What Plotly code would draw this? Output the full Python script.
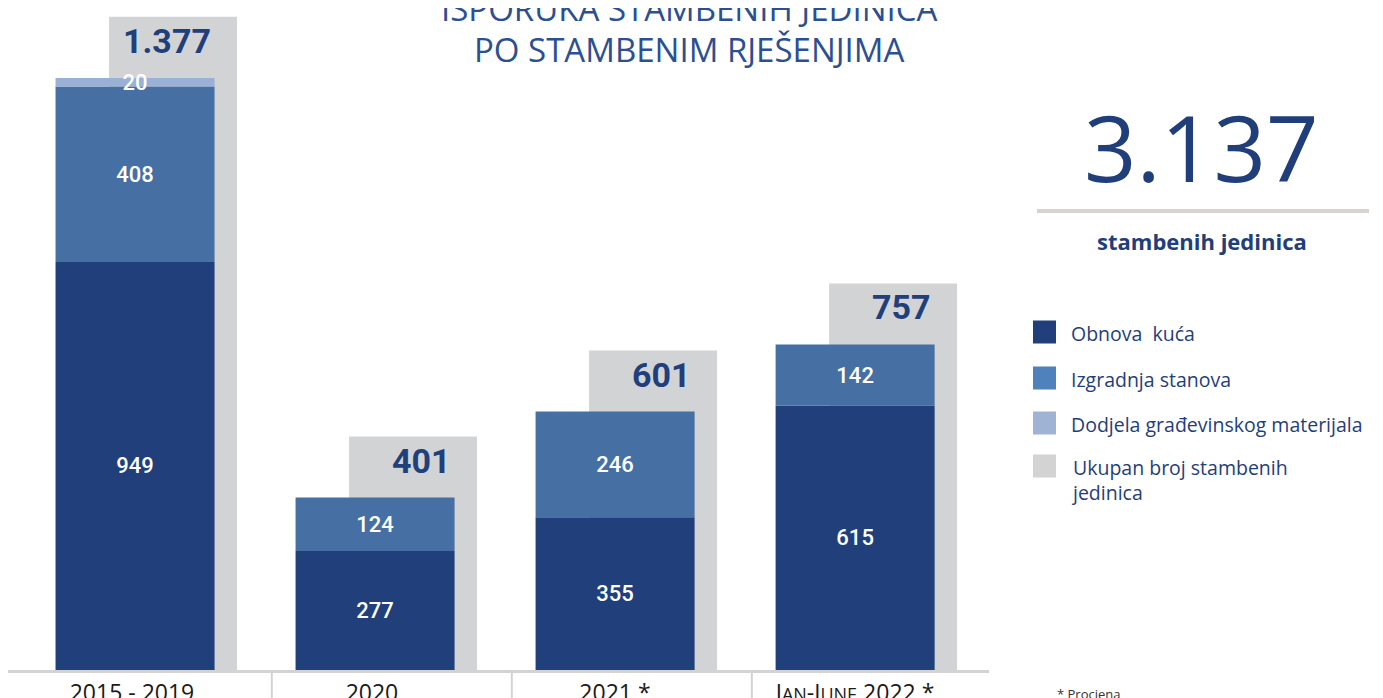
import plotly.graph_objects as go

# ---- data ----
categories = ["2015 - 2019.", "2020.", "2021.*", "JAN-JUNE 2022.*"]
tick_labels = [
    "2015 - 2019.",
    "2020.",
    "2021.*",
    "J<span style='font-size:18px'>AN</span>-J<span style='font-size:18px'>UNE</span> 2022.*",
]
obnova_kuca = [949, 277, 355, 615]
izgradnja_stanova = [408, 124, 246, 142]
dodjela_materijala = [20, 0, 0, 0]
ukupno = [1377, 401, 601, 757]
grand_total = 3137

series_names = ["Obnova  kuća", "Izgradnja stanova", "Dodjela građevinskog materijala",
                "Ukupan broj stambenih<br>jedinica"]

# ---- style ----
W, H = 1383, 698
OFS = 8  # page body margin of the browser
C_DARK = "#203F7B"
C_MID = "#4670A3"
C_LIGHT = "#9AB0D4"
C_GRAY = "#D2D3D5"
LEG_COLORS = ["#203F7B", "#4F81BD", "#9FB3D5", "#D3D3D3"]
TXT = "#1F3E7A"
TITLE_C = "#2B4F91"

COL_OFF, COL_W = -0.331, 0.6625
GRAY_OFF, GRAY_W = -0.108, 0.533
HEADROOM = 142  # extra height of the grey total bar above the stack (label room)


def px(x):
    return (x - OFS) / W


def py(y):
    return 1 - (y - OFS) / H


def fmt(v):
    return f"{v:,}".replace(",", ".")


fig = go.Figure()

gray_heights = [t + HEADROOM for t in ukupno]
fig.add_trace(go.Bar(
    x=categories, y=gray_heights, offset=GRAY_OFF, width=GRAY_W,
    marker=dict(color=C_GRAY, line=dict(width=0)), hoverinfo="skip",
    showlegend=False,
))

base = [0] * len(categories)
for vals, col in [(obnova_kuca, C_DARK), (izgradnja_stanova, C_MID), (dodjela_materijala, C_LIGHT)]:
    fig.add_trace(go.Bar(
        x=categories, y=vals, base=list(base), offset=COL_OFF, width=COL_W,
        marker=dict(color=col, line=dict(width=0)),
        text=[str(v) if v > 0 else "" for v in vals],
        textposition="inside", insidetextanchor="middle", textangle=0,
        textfont=dict(family="Roboto", size=22, color="white", weight=500),
        showlegend=False,
    ))
    base = [b + v for b, v in zip(base, vals)]

annotations = []
# totals on grey bars
for i, (t, g) in enumerate(zip(ukupno, gray_heights)):
    annotations.append(dict(
        x=i + COL_OFF + COL_W, y=g, xref="x", yref="y", xanchor="right", yanchor="middle",
        yshift=-24, xshift=-2, showarrow=False, text=f"<b>{fmt(t)}</b>",
        font=dict(family="Roboto", size=34, color=C_DARK),
    ))

# title
annotations.append(dict(x=px(689), y=py(8), xref="paper", yref="paper", showarrow=False,
                        text="ISPORUKA STAMBENIH JEDINICA", xanchor="center", yanchor="middle",
                        font=dict(family="Open Sans", size=33, color=TITLE_C)))
annotations.append(dict(x=px(689), y=py(50), xref="paper", yref="paper", showarrow=False,
                        text="PO STAMBENIM RJEŠENJIMA", xanchor="center", yanchor="middle",
                        font=dict(family="Open Sans", size=33, color=TITLE_C)))

# big grand total
annotations.append(dict(x=px(1201), y=py(146), xref="paper", yref="paper", showarrow=False,
                        text=fmt(grand_total), xanchor="center", yanchor="middle",
                        font=dict(family="Open Sans", size=92, color=TXT)))
annotations.append(dict(x=px(1202), y=py(241), xref="paper", yref="paper", showarrow=False,
                        text="<b>stambenih jedinica</b>", xanchor="center", yanchor="middle",
                        font=dict(family="Open Sans", size=22, color=TXT)))

# footnote
annotations.append(dict(x=px(1055), y=py(694), xref="paper", yref="paper", showarrow=False,
                        text="* Procjena", xanchor="left", yanchor="middle",
                        font=dict(family="Open Sans", size=13, color="#333333")))

shapes = []
# line under big number
shapes.append(dict(type="line", xref="paper", yref="paper", x0=px(1037), x1=px(1369),
                   y0=py(211), y1=py(211), line=dict(color="#D9D2CE", width=4)))

# custom legend
leg_y = [332, 378, 423, 466]
for name, col, yy in zip(series_names, LEG_COLORS, leg_y):
    shapes.append(dict(type="rect", xref="paper", yref="paper",
                       x0=px(1033), x1=px(1056), y0=py(yy - 11.5), y1=py(yy + 11.5),
                       fillcolor=col, line=dict(width=0)))
    annotations.append(dict(x=px(1069), y=py(yy - 14), xref="paper", yref="paper",
                            showarrow=False, text=name, xanchor="left", yanchor="top", align="left",
                            font=dict(family="Open Sans", size=19.5, color=TXT)))

# category dividers below the axis
for k in range(len(categories) - 1):
    shapes.append(dict(type="line", xref="x", yref="paper", x0=k + 0.57, x1=k + 0.57,
                       y0=py(670), y1=py(700), line=dict(color="#D3D3D3", width=2)))

fig.update_layout(
    width=W, height=H,
    margin=dict(l=0, r=0, t=0, b=0),
    barmode="overlay",
    plot_bgcolor="white", paper_bgcolor="white",
    uniformtext=dict(minsize=22, mode="show"),
    annotations=annotations, shapes=shapes,
    showlegend=False,
    xaxis=dict(domain=[px(8), px(989)], range=[-0.529, 3.558], tickmode="array",
               tickvals=categories, ticktext=tick_labels, showgrid=False, zeroline=False,
               showline=True, linecolor="#D3D3D3", linewidth=3, ticks="", automargin=False,
               tickfont=dict(family="Liberation Sans Narrow, Open Sans", size=23, color="#1a1a1a")),
    yaxis=dict(domain=[py(670), py(8)], range=[0, (670 - 8) / 0.43], visible=False, automargin=False),
)

fig.write_html("out.html")
